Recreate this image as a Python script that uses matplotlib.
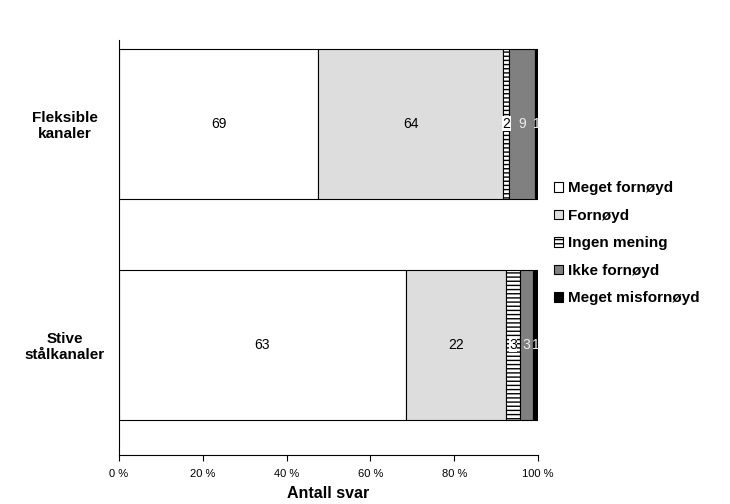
import numpy as np
import matplotlib
matplotlib.use('Agg')
import matplotlib.pyplot as plt
from matplotlib.patches import Patch

# data
categories = ['Stive\nstålkanaler', 'Fleksible\nkanaler']
series_names = ['Meget fornøyd', 'Fornøyd', 'Ingen mening', 'Ikke fornøyd', 'Meget misfornøyd']
counts = {
    'Meget fornøyd': [63, 69],
    'Fornøyd': [22, 64],
    'Ingen mening': [3, 2],
    'Ikke fornøyd': [3, 9],
    'Meget misfornøyd': [1, 1],
}
xticks = [0, 20, 40, 60, 80, 100]

colors = ['white', '#dddddd', 'white', '#808080', 'black']
hatches = [None, None, '----', None, None]
label_colors = ['black', 'black', 'black', '#eeeeee', '#eeeeee']

plt.rcParams['font.family'] = ['Liberation Sans', 'DejaVu Sans']
plt.rcParams['hatch.linewidth'] = 1.0

fig = plt.figure(figsize=(7.3, 5.04), dpi=100)
ax = fig.add_axes([0.163, 0.097, 0.574, 0.824])

totals = np.array([sum(counts[s][i] for s in series_names) for i in range(len(categories))])
ypos = np.arange(len(categories))
left = np.zeros(len(categories))
for s, c, h, lc in zip(series_names, colors, hatches, label_colors):
    vals = np.array(counts[s], dtype=float)
    pct = vals / totals * 100
    ax.barh(ypos, pct, left=left, height=0.68, color=c, edgecolor='black',
            linewidth=0.8, hatch=h)
    for y, l, p, v in zip(ypos, left, pct, counts[s]):
        bbox = dict(facecolor='white', edgecolor='none', pad=0.3) if h else None
        ax.text(l + p / 2, y, str(v), ha='center', va='center', fontsize=10,
                color=lc, bbox=bbox)
    left += pct

ax.set_xlim(0, 100)
ax.set_ylim(-0.5, 1.38)
ax.set_xticks(xticks)
ax.set_xticklabels([f'{t} %' for t in xticks], fontsize=8)
ax.set_yticks(ypos)
ax.set_yticklabels(categories, fontsize=11, fontweight='bold', ha='center')
ax.tick_params(axis='y', length=0, pad=39)
ax.tick_params(axis='x', length=4, direction='out', pad=6)
ax.set_xlabel('Antall svar', fontsize=11.5, fontweight='bold', labelpad=5)
for sp in ['top', 'right']:
    ax.spines[sp].set_visible(False)
ax.spines['left'].set_linewidth(0.8)
ax.spines['bottom'].set_linewidth(0.8)

handles = [Patch(facecolor=c, edgecolor='black', hatch=h, linewidth=0.8)
           for c, h in zip(colors, hatches)]
ax.legend(handles, series_names, loc='center left', bbox_to_anchor=(1.005, 0.51),
          frameon=False, prop={'weight': 'bold', 'size': 11},
          handlelength=0.6, handleheight=0.6, handletextpad=0.3, labelspacing=0.88)

fig.savefig('out.png', dpi=100)
